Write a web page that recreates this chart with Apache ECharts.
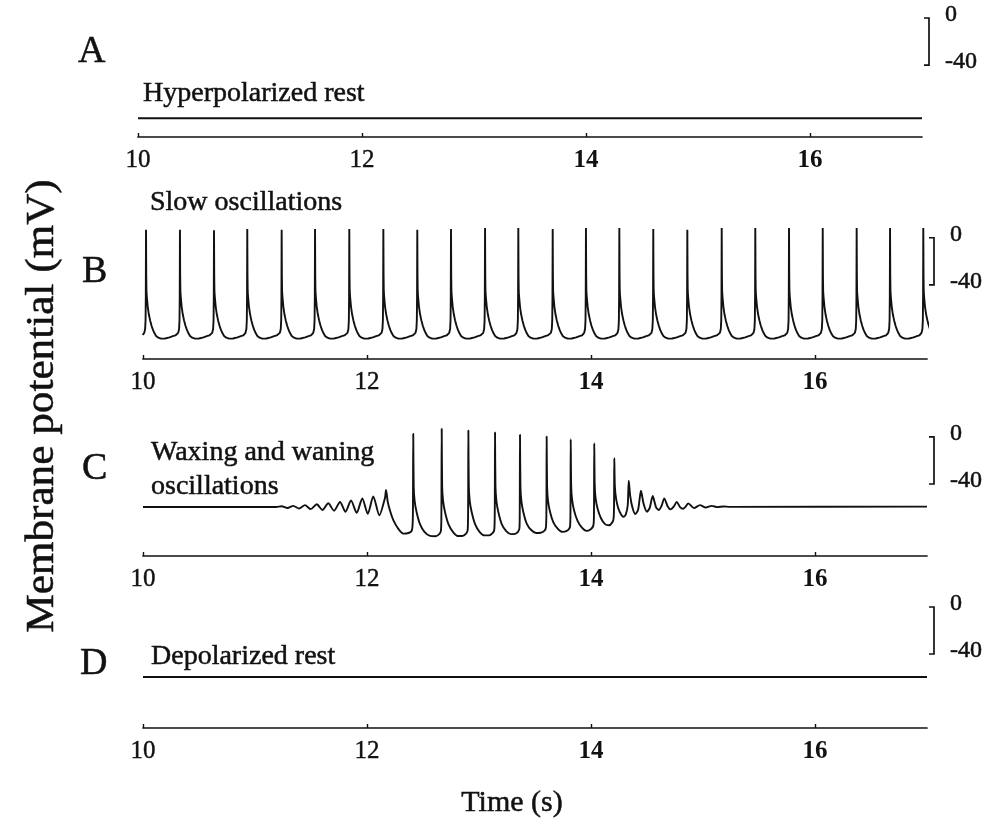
<!DOCTYPE html>
<html>
<head>
<meta charset="utf-8">
<script src="https://cdn.jsdelivr.net/npm/echarts@6/dist/echarts.min.js"></script>
<style>
  html, body { margin: 0; padding: 0; background: #fff; }
  #chart { width: 999px; height: 819px; }
</style>
</head>
<body>
<div id="chart"></div>
<script>
// ---- data -------------------------------------------------------------
const TIME_TICKS = [10, 12, 14, 16];
const SCALE_LABELS = ['0', '-40'];
const PANEL_LETTERS = ['A', 'B', 'C', 'D'];

// A: hyperpolarized rest (mV)
const traceA = [[10, -85.1], [17, -85.1]];

// B: slow oscillations — spike times (s), spike peaks (mV) and the shape
// of one cycle around its spike (offset in s, mV)
const spikeTimesB = [10.027, 10.330, 10.634, 10.931, 11.238, 11.536, 11.842, 12.146,
  12.449, 12.750, 13.054, 13.351, 13.658, 13.955, 14.253, 14.556, 14.860, 15.167,
  15.467, 15.768, 16.069, 16.372, 16.670, 16.967];
const spikePeaksB = [6.8, 6.8, 6.3, 7.4, 6.8, 7.4, 7.4, 7.4, 6.8, 7.4, 8.2, 8.2,
  7.4, 8.2, 8.2, 7.4, 6.8, 8.2, 8.2, 8.2, 8.2, 8.2, 8.2, 8.2];
const riseB = [[-0.030, -82.6], [-0.016, -80.8], [-0.008, -77.5], [-0.004, -70], [-0.002, -50]];
const fallB = [[0.002, -32], [0.004, -46], [0.008, -51], [0.015, -58.5], [0.025, -65],
  [0.036, -70], [0.050, -75], [0.062, -78.3], [0.076, -81.2], [0.090, -83.4],
  [0.110, -84.9], [0.134, -85.7], [0.170, -85.6], [0.210, -84.6], [0.240, -83.6],
  [0.262, -83.0]];

// C: waxing and waning oscillations (s, mV)
const traceC = [
  [10.000, -59.5], [11.190, -59.5],
  [11.238, -58.9], [11.290, -60.3], [11.342, -58.5], [11.394, -60.8],
  [11.446, -57.9], [11.498, -61.3], [11.551, -57.2], [11.602, -62.0],
  [11.654, -56.3], [11.706, -62.7], [11.759, -55.2], [11.808, -63.5],
  [11.857, -53.9], [11.908, -64.4], [11.958, -52.3], [12.007, -65.3],
  [12.056, -50.5], [12.110, -66.5], [12.160, -52.0], [12.170, -45.0],
  [12.185, -55.0], [12.210, -64.0], [12.235, -70.6], [12.280, -78.0],
  [12.324, -82.0], [12.370, -81.5], [12.400, -79.5], [12.409, -70.0], [12.411, -45.0],
  [12.413, 2.6],
  [12.417, -42], [12.425, -54], [12.443, -64], [12.473, -74], [12.513, -80.5],
  [12.563, -84.0], [12.610, -84.3], [12.645, -82.5], [12.660, -79.5], [12.664, -68], [12.665, -45],
  [12.667, 6.8],
  [12.671, -42], [12.679, -54], [12.697, -64], [12.727, -74], [12.767, -80.5],
  [12.810, -84.0], [12.850, -84.0], [12.885, -82.0], [12.899, -79.0], [12.903, -60],
  [12.905, 5.4],
  [12.909, -42], [12.917, -54], [12.935, -64], [12.965, -74], [13.005, -80.5],
  [13.050, -83.5], [13.090, -83.5], [13.123, -81.5], [13.137, -78.5], [13.141, -60],
  [13.143, 3.7],
  [13.147, -42], [13.155, -54], [13.173, -64], [13.203, -74], [13.243, -80.0],
  [13.285, -82.5], [13.320, -82.3], [13.348, -80.5], [13.361, -77.5], [13.364, -60],
  [13.366, 1.7],
  [13.370, -42], [13.378, -54], [13.396, -64], [13.426, -73.5], [13.466, -79.0],
  [13.510, -81.5], [13.550, -81.3], [13.585, -79.5], [13.598, -76.5], [13.602, -60],
  [13.604, 0.3],
  [13.608, -42], [13.616, -54], [13.634, -63.5], [13.664, -72.5], [13.704, -78.0],
  [13.745, -80.6], [13.780, -80.0], [13.805, -78.0], [13.814, -75.0], [13.817, -60],
  [13.819, -2.0],
  [13.823, -42], [13.831, -53], [13.849, -62.5], [13.879, -71.0], [13.919, -77.0],
  [13.960, -79.7], [13.995, -78.5], [14.018, -76.0], [14.025, -72.0], [14.027, -58],
  [14.029, -5.4],
  [14.033, -40], [14.041, -52], [14.059, -61], [14.089, -69], [14.125, -74],
  [14.160, -75], [14.190, -72.5], [14.202, -69], [14.206, -55],
  [14.208, -18.1],
  [14.213, -42], [14.225, -53], [14.245, -61], [14.270, -66], [14.290, -67.8],
  [14.310, -66], [14.328, -58],
  [14.337, -37.2],
  [14.350, -50], [14.370, -60], [14.395, -65.5], [14.420, -62], [14.435, -52],
  [14.446, -45.7],
  [14.470, -57], [14.500, -63.5], [14.525, -60],
  [14.551, -50.2],
  [14.580, -59.5], [14.605, -62], [14.630, -58.5],
  [14.654, -52.2],
  [14.685, -59], [14.710, -61.5], [14.740, -59],
  [14.765, -55.1],
  [14.795, -59.5], [14.820, -61], [14.845, -59.2],
  [14.869, -56.4], [14.920, -60.4], [14.973, -57.9], [15.025, -60.0],
  [15.078, -58.5], [15.130, -59.6], [15.181, -59.0], [15.240, -59.4],
  [17.000, -59.2]
];

// D: depolarized rest (mV)
const traceD = [[10, -59.6], [17, -59.6]];

// ---- build the periodic trace of panel B -------------------------------
function buildTraceB() {
  const pts = [];
  spikeTimesB.forEach((t, i) => {
    riseB.forEach(([dt, v]) => pts.push([+(t + dt).toFixed(4), v]));
    pts.push([t, spikePeaksB[i]]);
    fallB.forEach(([dt, v]) => pts.push([+(t + dt).toFixed(4), v]));
  });
  return pts;
}
const traceB = buildTraceB();

// ---- layout -------------------------------------------------------------
const FONT = '"Liberation Serif", "Times New Roman", serif';
const INK = '#111';

// one grid per panel; y range in mV chosen so every panel has the same mV/px
const panels = [
  { left: 138, right: 77, top: 18,  height: 119, yMin: -101, yMax: 0,  data: traceA, smooth: false },
  { left: 143, right: 72, top: 226, height: 133, yMin: -103, yMax: 10, data: traceB, smooth: false },
  { left: 143, right: 72, top: 425, height: 131, yMin: -101, yMax: 10, data: traceC, smooth: 0.25 },
  { left: 143, right: 72, top: 607, height: 121, yMin: -103, yMax: 0,  data: traceD, smooth: false }
];

const chart = echarts.init(document.getElementById('chart'), null, { renderer: 'canvas' });

const labelRich = {
  n: { fontFamily: FONT, fontSize: 25, color: INK, textBorderColor: INK, textBorderWidth: 0.4 },
  b: { fontFamily: FONT, fontSize: 25, color: INK, fontWeight: 'bold' }
};

const option = {
  backgroundColor: '#fff',
  animation: false,
  textStyle: { fontFamily: FONT, color: INK },
  grid: panels.map(p => ({ left: p.left, right: p.right, top: p.top, height: p.height })),
  xAxis: panels.map((p, i) => ({
    type: 'value',
    gridIndex: i,
    min: 10,
    max: 17,
    interval: 2,
    position: 'bottom',
    splitLine: { show: false },
    axisLine: { show: true, onZero: false, lineStyle: { color: INK, width: 1.7 } },
    axisTick: { show: true, inside: true, length: 4, customValues: TIME_TICKS,
      lineStyle: { color: INK, width: 1.4 } },
    axisLabel: {
      show: true,
      customValues: TIME_TICKS,
      margin: 11,
      fontFamily: FONT,
      fontSize: 25,
      color: INK,
      formatter: v => (v >= 14 ? '{b|' + v + '}' : '{n|' + v + '}'),
      rich: labelRich
    }
  })),
  yAxis: panels.map((p, i) => ({
    type: 'value',
    gridIndex: i,
    min: p.yMin,
    max: p.yMax,
    show: false,
    splitLine: { show: false }
  })),
  series: panels.map((p, i) => ({
    type: 'line',
    xAxisIndex: i,
    yAxisIndex: i,
    data: p.data,
    showSymbol: false,
    symbol: 'none',
    smooth: p.smooth,
    clip: true,
    lineStyle: { color: INK, width: 1.9 },
    emphasis: { disabled: true }
  }))
};
chart.setOption(option);

// ---- annotations: panel titles, letters, axis names, scale bars ----------
const titles = [
  { text: 'Hyperpolarized rest', x: 143, y: 94 },
  { text: 'Slow oscillations', x: 150, y: 203 },
  { text: 'Waxing and waning', x: 151, y: 453 },
  { text: 'oscillations', x: 151, y: 487 },
  { text: 'Depolarized rest', x: 151, y: 657 }
];
const letterPos = [[78, 52], [82, 272], [82, 469], [80, 664]];

function textStyle(text, size, align) {
  return { text, font: size + 'px ' + FONT, fill: INK, stroke: INK, lineWidth: 0.5,
    align: align, verticalAlign: 'middle' };
}

const graphics = [];
titles.forEach(t => graphics.push({
  type: 'text', x: t.x, y: t.y, silent: true, style: textStyle(t.text, 28, 'left')
}));
PANEL_LETTERS.forEach((L, i) => graphics.push({
  type: 'text', x: letterPos[i][0], y: letterPos[i][1], silent: true, style: textStyle(L, 38, 'left')
}));
graphics.push({
  type: 'text', x: 42, y: 406, rotation: Math.PI / 2, scaleX: 1.08, silent: true,
  style: textStyle('Membrane potential (mV)', 40, 'center')
});
graphics.push({
  type: 'text', x: 512, y: 803, silent: true, style: textStyle('Time (s)', 30, 'center')
});

// scale bars: 0 to -40 mV, measured on each panel's own y scale
panels.forEach((p, i) => {
  const top = chart.convertToPixel({ gridIndex: i }, [17, 0]);
  const bot = chart.convertToPixel({ gridIndex: i }, [17, -40]);
  const x = top[0] + 7;
  graphics.push({
    type: 'polyline', silent: true,
    shape: { points: [[x - 5, top[1]], [x, top[1]], [x, bot[1]], [x - 5, bot[1]]] },
    style: { stroke: INK, lineWidth: 1.7, fill: null }
  });
  graphics.push({
    type: 'text', x: x + 16, y: top[1] - 3, silent: true, style: textStyle(SCALE_LABELS[0], 24, 'left')
  });
  graphics.push({
    type: 'text', x: x + 16, y: bot[1] - 3, silent: true, style: textStyle(SCALE_LABELS[1], 24, 'left')
  });
});

chart.setOption({ graphic: { elements: graphics } });
</script>
</body>
</html>
